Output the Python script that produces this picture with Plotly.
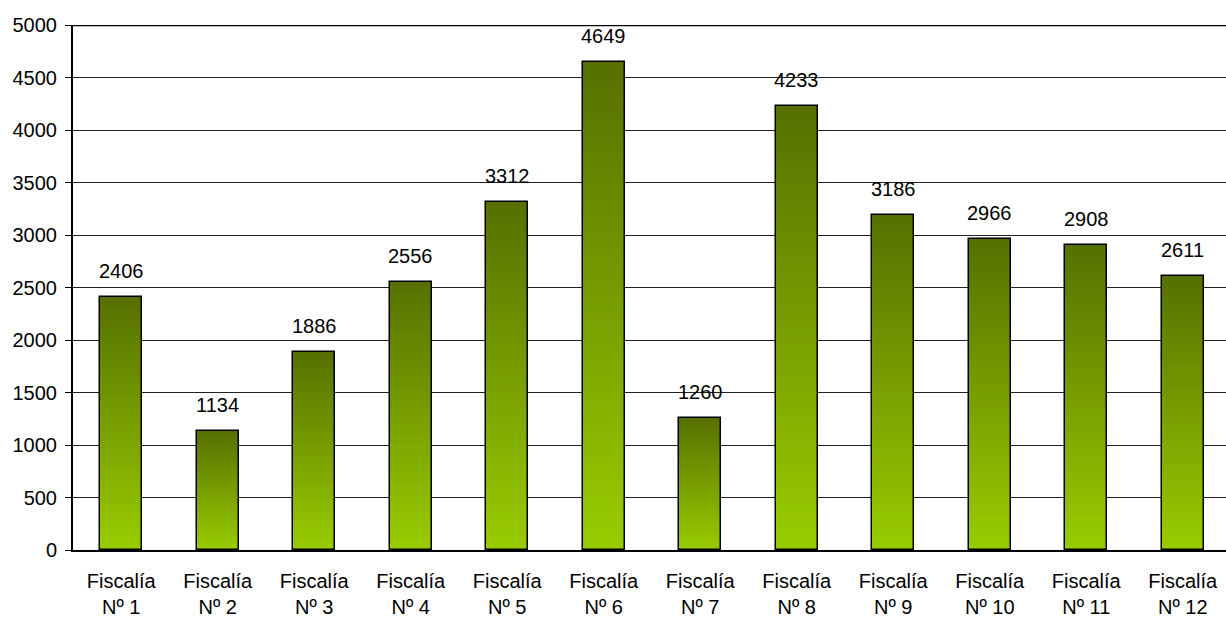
import plotly.graph_objects as go

categories = ["Fiscalía Nº 1", "Fiscalía Nº 2", "Fiscalía Nº 3", "Fiscalía Nº 4",
              "Fiscalía Nº 5", "Fiscalía Nº 6", "Fiscalía Nº 7", "Fiscalía Nº 8",
              "Fiscalía Nº 9", "Fiscalía Nº 10", "Fiscalía Nº 11", "Fiscalía Nº 12"]
tick_labels = ["Fiscalía<br>Nº %d" % (i + 1) for i in range(12)]
values = [2406, 1134, 1886, 2556, 3312, 4649, 1260, 4233, 3186, 2966, 2908, 2611]
y_ticks = list(range(0, 5001, 500))

FONT = "Liberation Sans, Arial, sans-serif"
TOP = (86, 112, 0)
BOTTOM = (153, 204, 0)
N = 60
BAR_W = 0.435

xs = list(range(len(values)))
fig = go.Figure()

# gradient: stacked overlapping segments per bar (bottom bright, top dark)
for k in range(N):
    t = (k + 0.5) / N
    c = tuple(round(BOTTOM[i] + (TOP[i] - BOTTOM[i]) * t) for i in range(3))
    bases = [v * k / N for v in values]
    hs = [v * (1.6 if k < N - 1 else 1.0) / N for v in values]
    hs = [min(h, v - b) for h, v, b in zip(hs, values, bases)]
    fig.add_trace(go.Bar(
        x=xs, y=hs, base=bases, width=BAR_W,
        marker=dict(color="rgb(%d,%d,%d)" % c, line=dict(width=0)),
        showlegend=False, hoverinfo="skip"))

# outline
fig.add_trace(go.Bar(
    x=xs, y=values, width=BAR_W,
    marker=dict(color="rgba(0,0,0,0)", line=dict(color="black", width=1.5)),
    showlegend=False, customdata=categories,
    hovertemplate="%{customdata}: %{y}<extra></extra>"))

for x, v in zip(xs, values):
    fig.add_annotation(x=x, y=v, text=str(v), showarrow=False,
                       yanchor="bottom", yshift=13,
                       font=dict(family=FONT, size=20, color="black"))

fig.add_shape(type="line", xref="paper", x0=0, x1=1, yref="y", y0=5000, y1=5000,
              line=dict(color="black", width=2.5), layer="above")

fig.update_layout(
    width=1226, height=617,
    margin=dict(l=73, r=0, t=25, b=67),
    barmode="overlay",
    plot_bgcolor="white", paper_bgcolor="white",
    font=dict(family=FONT, size=20, color="black"),
    xaxis=dict(
        tickmode="array", tickvals=xs, ticktext=tick_labels,
        range=[-0.5, -0.5 + 1153 / 96.5],
        showline=True, linecolor="black", linewidth=2,
        showgrid=False, ticks="", zeroline=False,
        ticklabelstandoff=12,
        tickfont=dict(family=FONT, size=20, color="black"),
    ),
    yaxis=dict(
        range=[0, 5000], tickmode="array", tickvals=y_ticks,
        showline=True, linecolor="black", linewidth=2,
        showgrid=True, gridcolor="#222222", gridwidth=1,
        ticks="outside", ticklen=6, tickcolor="black", tickwidth=1,
        zeroline=False, ticklabelstandoff=4,
        tickfont=dict(family=FONT, size=20, color="black"),
    ),
    bargap=0,
)

fig.write_html("out.html")
